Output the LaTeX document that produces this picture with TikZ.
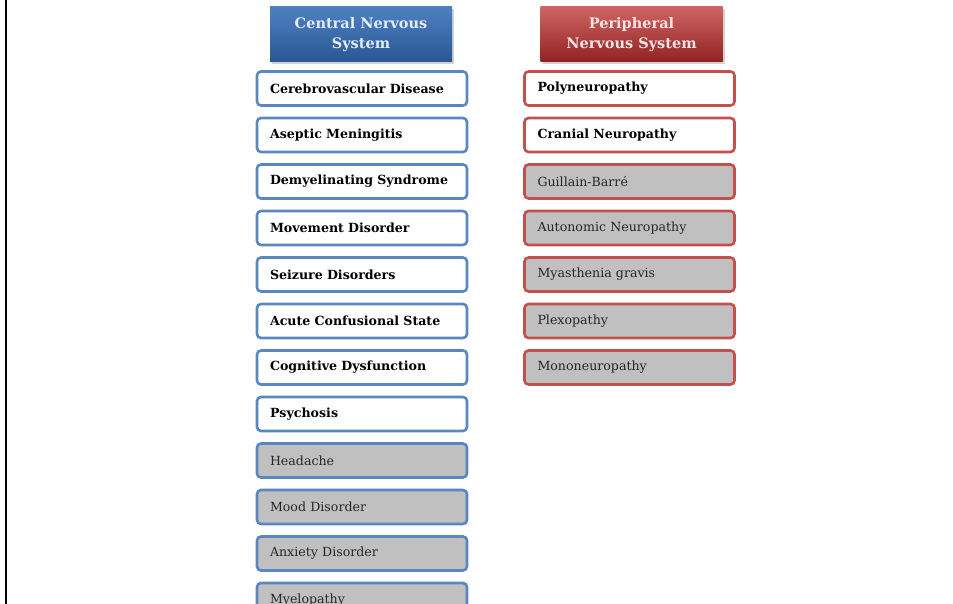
\documentclass[tikz,border=0pt]{standalone}
\usepackage{fontspec}
\setmainfont{DejaVu Serif}
\usetikzlibrary{shadows}
\definecolor{cnsborder}{HTML}{5A87C2}
\definecolor{pnsborder}{HTML}{C4504E}
\definecolor{grayfill}{HTML}{C0C0C0}
\definecolor{cnsdark}{HTML}{2A5794}
\definecolor{cnslight}{HTML}{4E80C0}
\definecolor{pnsdark}{HTML}{932222}
\definecolor{pnslight}{HTML}{C44A48}
\definecolor{hdrtext}{HTML}{E4ECF6}
\definecolor{hdrtextr}{HTML}{F6E4E4}
\tikzset{
  item/.style={draw, line width=2.6pt, rounded corners=4pt, minimum width=210pt, minimum height=34pt,
    text width=184pt, align=left, inner sep=0pt, font=\fontsize{12.6}{14}\selectfont\bfseries, fill=white, text=black},
  cns/.style={item, draw=cnsborder},
  pns/.style={item, draw=pnsborder},
  grey/.style={fill=grayfill, font=\fontsize{12.6}{14}\selectfont, text=black!85},
  header/.style={minimum width=182pt, minimum height=55pt, inner sep=0pt, align=center,
    font=\fontsize{14.5}{20}\selectfont\bfseries, drop shadow={shadow xshift=2pt, shadow yshift=-2pt, opacity=0.35}},
}
\begin{document}
\begin{tikzpicture}[x=1pt,y=-1pt]
\useasboundingbox (0,0) rectangle (953,604);
\clip (0,0) rectangle (953,604);
\fill[white] (0,0) rectangle (953,604);
\draw[line width=2pt, black] (6,0) -- (6,604);
\node[header, top color=cnslight, bottom color=cnsdark, text=hdrtext] (cnsh) at (361,34.5) {Central Nervous\\System};
\node[header, top color=pnslight!85!white, bottom color=pnsdark, text=hdrtextr] (pnsh) at (631.5,34.5) {Peripheral\\Nervous System};
\node[cns] (c1) at (362,88.5) {Cerebrovascular Disease};
\node[cns] (c2) at (362,135) {Aseptic Meningitis};
\node[cns] (c3) at (362,181.5) {Demyelinating Syndrome};
\node[cns] (c4) at (362,228) {Movement Disorder};
\node[cns] (c5) at (362,274.5) {Seizure Disorders};
\node[cns] (c6) at (362,321) {Acute Confusional State};
\node[cns] (c7) at (362,367.5) {Cognitive Dysfunction};
\node[cns] (c8) at (362,414) {Psychosis};
\node[cns, grey] (c9) at (362,460.5) {Headache};
\node[cns, grey] (c10) at (362,507) {Mood Disorder};
\node[cns, grey] (c11) at (362,553.5) {Anxiety Disorder};
\node[cns, grey] (c12) at (362,600) {Myelopathy};
\node[pns] (p1) at (629.5,88.5) {Polyneuropathy};
\node[pns] (p2) at (629.5,135) {Cranial Neuropathy};
\node[pns, grey] (p3) at (629.5,181.5) {Guillain-Barré};
\node[pns, grey] (p4) at (629.5,228) {Autonomic Neuropathy};
\node[pns, grey] (p5) at (629.5,274.5) {Myasthenia gravis};
\node[pns, grey] (p6) at (629.5,321) {Plexopathy};
\node[pns, grey] (p7) at (629.5,367.5) {Mononeuropathy};
\end{tikzpicture}
\end{document}
